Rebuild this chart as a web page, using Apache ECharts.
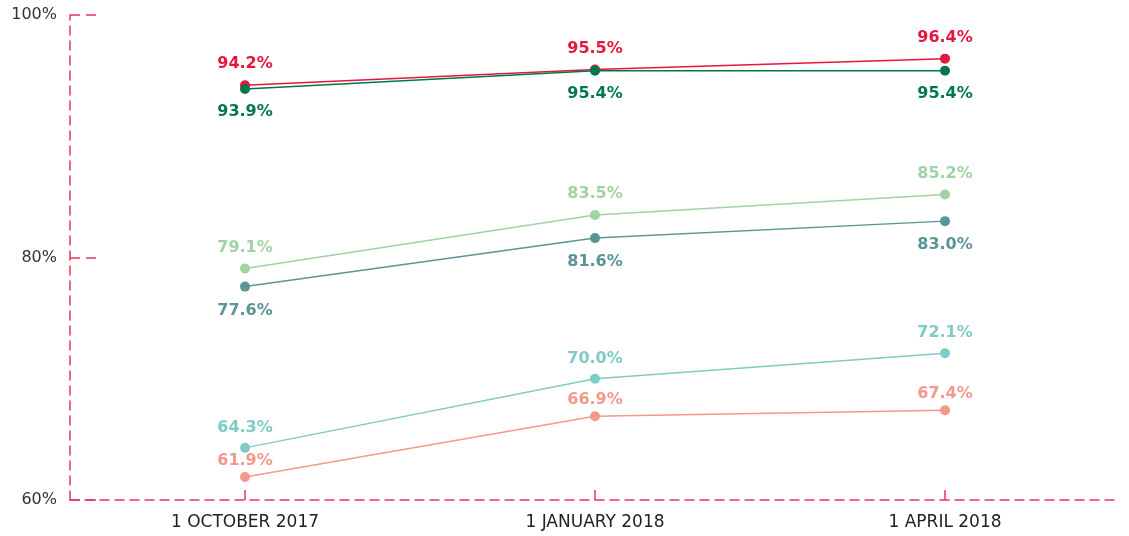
<!DOCTYPE html>
<html>
<head>
<meta charset="utf-8">
<script src="https://cdn.jsdelivr.net/npm/echarts@6/dist/echarts.min.js"></script>
<style>
    html, body { margin: 0; padding: 0; background: #fff; }
    #chart { width: 1129px; height: 536px; }
</style>
</head>
<body>
<div id="chart"></div>
<script>
    const categories = ['1 OCTOBER 2017', '1 JANUARY 2018', '1 APRIL 2018'];
    const redVals = [94.2, 95.5, 96.4];
    const darkGreenVals = [93.9, 95.4, 95.4];
    const lightGreenVals = [79.1, 83.5, 85.2];
    const slateVals = [77.6, 81.6, 83.0];
    const aquaVals = [64.3, 70.0, 72.1];
    const salmonVals = [61.9, 66.9, 67.4];

    const axisRed = '#e8355a';
    const font = '"DejaVu Sans", sans-serif';

    function line(name, data, color, pos, dist) {
        return {
            name: name,
            type: 'line',
            data: data,
            symbol: 'circle',
            symbolSize: 10,
            lineStyle: { color: color, width: 1.5 },
            itemStyle: { color: color },
            label: {
                show: true,
                position: pos,
                distance: dist,
                color: color,
                fontFamily: font,
                fontWeight: 'bold',
                fontSize: 16,
                formatter: p => p.value.toFixed(1) + '%'
            },
            z: 3
        };
    }

    const chart = echarts.init(document.getElementById('chart'));
    chart.setOption({
        animation: false,
        grid: { left: 70, right: 9, top: 15, bottom: 36 },
        xAxis: {
            type: 'category',
            data: categories,
            boundaryGap: true,
            axisLine: { show: true, lineStyle: { color: axisRed, type: [9, 6], width: 1.5 } },
            axisTick: { show: true, alignWithLabel: true, inside: true, length: 10, lineStyle: { color: axisRed, width: 1.5 } },
            axisLabel: { color: '#222', fontFamily: font, fontSize: 17, margin: 14 }
        },
        yAxis: {
            type: 'value',
            min: 60,
            max: 100,
            interval: 20,
            axisLine: { show: true, lineStyle: { color: axisRed, type: [9, 6], width: 1.5 } },
            axisTick: { show: true, inside: true, length: 27, lineStyle: { color: axisRed, type: [10, 6], width: 1.5 } },
            splitLine: { show: false },
            axisLabel: { color: '#333', fontFamily: font, fontSize: 16, margin: 13, formatter: '{value}%' }
        },
        series: [
            line('red', redVals, '#e5173f', 'top', 8),
            line('darkGreen', darkGreenVals, '#00784b', 'bottom', 10),
            line('lightGreen', lightGreenVals, '#a0d3a4', 'top', 8),
            line('slate', slateVals, '#5b9598', 'bottom', 11),
            line('aqua', aquaVals, '#7fcbc5', 'top', 7),
            line('salmon', salmonVals, '#f2998d', 'top', 3)
        ]
    });
</script>
</body>
</html>
